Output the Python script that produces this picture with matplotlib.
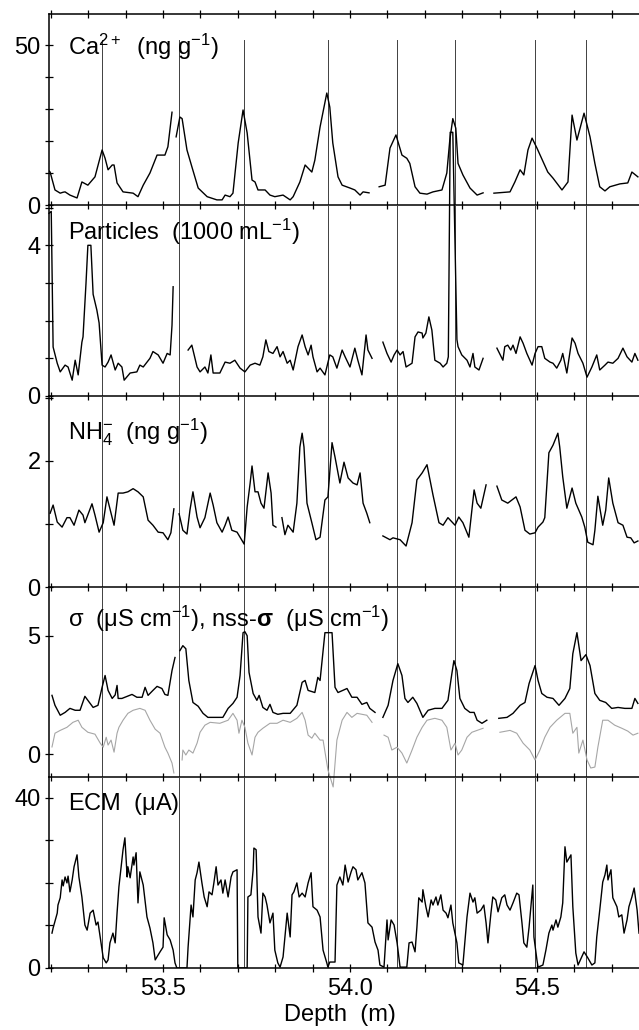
import numpy as np
import matplotlib.pyplot as plt
from matplotlib.ticker import MultipleLocator

nan = np.nan

# depths (m) of the marked events, drawn as thin lines through all panels
event_depths = [53.337, 53.544, 53.716, 53.940, 54.127, 54.280, 54.495, 54.631]

# Ca2+ (ng/g), nan = break in record
ca_depth = [53.192, 53.198, 53.211, 53.225, 53.233, 53.238, 53.251, 53.270, 53.283, 53.299,
            53.318, 53.337, 53.345, 53.353, 53.364, 53.369, 53.377, 53.393, 53.420, 53.433,
            53.447, 53.465, 53.484, 53.505, 53.513, 53.524, nan,
            53.535, 53.545, 53.551, 53.564, 53.577, 53.594, 53.618, 53.644, 53.658, 53.666,
            53.679, 53.687, 53.701, 53.714, 53.725, 53.738, 53.746, 53.754, 53.773, 53.786,
            53.799, 53.821, 53.840, 53.848, 53.866, 53.880, 53.898, 53.906, 53.920, 53.938,
            53.946, 53.954, 53.968, 53.979, 54.000, 54.013, 54.027, 54.035, 54.051, nan,
            54.078, 54.094, 54.107, 54.123, 54.139, 54.152, 54.160, 54.174, 54.187, 54.206,
            54.222, 54.246, 54.259, 54.267, 54.275, 54.283, 54.289, 54.302, 54.321, 54.340,
            54.356, nan,
            54.385, 54.428, 54.441, 54.455, 54.465, 54.476, 54.487, 54.500, 54.529, 54.543,
            54.567, 54.583, 54.594, 54.607, 54.626, 54.642, 54.655, 54.668, 54.682, 54.695,
            54.722, 54.743, 54.754, 54.770]
ca = [11.0, 10.3, 4.7, 3.7, 4.0, 4.1, 3.1, 2.2, 7.2, 6.2,
      8.8, 17.2, 14.6, 11.0, 12.5, 12.5, 6.9, 4.1, 3.7, 2.6,
      6.2, 10.0, 15.6, 15.6, 18.2, 29.0, nan,
      21.3, 27.5, 27.0, 17.2, 12.0, 5.3, 2.6, 1.6, 1.6, 3.1,
      2.6, 3.7, 19.4, 29.7, 22.5, 7.8, 7.2, 4.7, 4.7, 3.1,
      2.6, 3.1, 1.6, 2.6, 7.2, 12.5, 10.3, 14.0, 24.4, 35.0,
      30.6, 19.4, 8.8, 6.2, 5.3, 4.7, 3.1, 4.1, 3.8, nan,
      5.7, 6.2, 17.8, 21.9, 15.6, 14.6, 13.0, 5.7, 3.7, 3.4,
      4.1, 4.7, 10.0, 20.3, 27.0, 24.0, 13.0, 9.4, 5.3, 3.1,
      3.8, nan,
      3.7, 4.1, 7.2, 11.0, 9.4, 17.2, 20.9, 17.8, 10.3, 8.4,
      4.7, 7.2, 28.1, 20.3, 28.7, 21.3, 13.0, 5.7, 4.4, 5.7,
      6.6, 6.9, 10.3, 8.8]

# particles (1000/mL)
part_depth = [53.195, 53.201, 53.206, 53.217, 53.225, 53.238, 53.246, 53.257, 53.265, 53.273,
              53.283, 53.286, 53.294, 53.299, 53.307, 53.313, 53.323, 53.329, 53.337, 53.345,
              53.353, 53.361, 53.372, 53.380, 53.390, 53.396, 53.412, 53.430, 53.438, 53.447,
              53.457, 53.465, 53.473, 53.487, 53.500, 53.511, 53.519, 53.524, 53.527, nan,
              53.567, 53.577, 53.591, 53.599, 53.612, 53.620, 53.628, 53.634, 53.652, 53.666,
              53.679, 53.692, 53.706, 53.719, 53.733, 53.746, 53.759, 53.767, 53.775, 53.783,
              53.794, 53.805, 53.813, 53.821, 53.832, 53.840, 53.848, 53.861, 53.872, 53.880,
              53.888, 53.896, 53.901, 53.912, 53.920, 53.933, 53.946, 53.954, 53.965, 53.979,
              53.987, 54.000, 54.013, 54.021, 54.032, 54.043, 54.048, 54.059, nan,
              54.088, 54.099, 54.110, 54.118, 54.126, 54.134, 54.142, 54.150, 54.166, 54.174,
              54.182, 54.193, 54.195, 54.203, 54.211, 54.219, 54.227, 54.241, 54.249, 54.259,
              54.263, 54.268, 54.275, 54.286, 54.289, 54.299, 54.313, 54.321, 54.329, 54.334,
              54.345, 54.356, nan,
              54.393, 54.409, 54.414, 54.422, 54.430, 54.436, 54.444, 54.455, 54.463, 54.473,
              54.487, 54.495, 54.503, 54.513, 54.521, 54.535, 54.543, 54.553, 54.564, 54.569,
              54.580, 54.594, 54.602, 54.610, 54.623, 54.634, 54.647, 54.660, 54.668, 54.682,
              54.690, 54.703, 54.717, 54.730, 54.741, 54.754, 54.762, 54.770]
part = [4.85, 4.9, 1.3, 0.87, 0.64, 0.82, 0.77, 0.42, 0.95, 0.56,
        1.43, 1.57, 3.0, 4.0, 4.0, 2.7, 2.28, 1.94, 0.82, 0.77,
        0.9, 1.09, 0.69, 0.87, 0.77, 0.42, 0.61, 0.64, 0.82, 0.77,
        0.9, 1.0, 1.18, 1.09, 0.87, 1.13, 1.09, 1.88, 2.9, nan,
        1.22, 1.35, 0.77, 0.64, 0.77, 0.61, 1.09, 0.61, 0.61, 0.9,
        0.87, 0.95, 0.74, 0.64, 0.82, 0.87, 0.82, 1.04, 1.49, 1.18,
        1.13, 1.31, 1.04, 1.18, 0.87, 0.95, 0.69, 1.31, 1.62, 1.31,
        1.09, 1.35, 1.04, 0.64, 0.74, 0.56, 1.09, 1.04, 0.74, 1.22,
        1.04, 0.77, 1.27, 0.95, 0.56, 1.62, 1.22, 1.0, nan,
        1.43, 1.13, 0.9, 1.09, 1.22, 1.09, 1.18, 0.77, 0.87, 1.57,
        1.7, 1.67, 1.54, 1.67, 2.1, 1.75, 0.95, 0.87, 0.77, 0.87,
        1.04, 7.0, 7.0, 1.5, 1.31, 1.09, 0.95, 0.77, 1.13, 0.77,
        0.69, 1.0, nan,
        1.27, 0.95, 1.31, 1.35, 1.22, 1.35, 1.13, 1.57, 1.4, 1.13,
        0.82, 1.13, 1.31, 1.31, 1.0, 0.9, 0.87, 0.74, 0.95, 1.13,
        0.61, 1.54, 1.4, 1.13, 0.87, 0.5, 0.77, 1.09, 0.69, 0.82,
        0.9, 0.87, 1.0, 1.27, 1.04, 0.9, 1.13, 0.95]

# NH4 (ng/g)
nh4_depth = [53.198, 53.206, 53.217, 53.230, 53.243, 53.251, 53.262, 53.275, 53.286, 53.291,
             53.310, 53.318, 53.329, 53.340, 53.350, 53.361, 53.369, 53.380, 53.393, 53.406,
             53.420, 53.433, 53.447, 53.460, 53.473, 53.487, 53.500, 53.513, 53.521, 53.529, nan,
             53.543, 53.553, 53.564, 53.572, 53.580, 53.591, 53.599, 53.612, 53.626, 53.634,
             53.644, 53.658, 53.666, 53.674, 53.684, 53.698, 53.706, 53.717, 53.725, 53.733,
             53.738, 53.746, 53.754, 53.762, 53.770, 53.781, 53.789, 53.794, 53.802, nan,
             53.818, 53.826, 53.834, 53.848, 53.858, 53.866, 53.872, 53.877, 53.885, 53.898,
             53.909, 53.920, 53.933, 53.941, 53.952, 53.960, 53.973, 53.984, 53.995, 54.008,
             54.019, 54.027, 54.035, 54.045, 54.053, nan,
             54.088, 54.107, 54.115, 54.134, 54.150, 54.166, 54.179, 54.193, 54.206, 54.222,
             54.238, 54.249, 54.262, 54.281, 54.291, 54.302, 54.318, 54.332, 54.340, 54.350,
             54.364, nan,
             54.393, 54.406, 54.422, 54.444, 54.455, 54.468, 54.481, 54.495, 54.503, 54.516,
             54.521, 54.532, 54.543, 54.556, 54.561, 54.569, 54.580, 54.594, 54.604, 54.620,
             54.628, 54.636, 54.650, 54.655, 54.663, 54.676, 54.684, 54.692, 54.703, 54.717,
             54.730, 54.741, 54.751, 54.760, 54.770]
nh4 = [1.17, 1.3, 1.03, 0.95, 1.1, 1.1, 0.98, 1.22, 1.14, 1.02,
       1.32, 1.14, 0.87, 1.02, 1.43, 1.17, 0.98, 1.49, 1.49, 1.51,
       1.56, 1.51, 1.43, 1.06, 0.98, 0.87, 0.86, 0.75, 0.86, 1.24, nan,
       1.16, 0.9, 0.84, 1.22, 1.51, 1.11, 0.94, 1.1, 1.49, 1.3,
       1.02, 0.87, 0.98, 1.11, 0.9, 0.87, 0.79, 0.68, 1.27, 1.65,
       1.92, 1.51, 1.51, 1.33, 1.25, 1.81, 1.49, 0.98, 0.95, nan,
       1.1, 0.83, 0.98, 0.87, 1.33, 2.22, 2.44, 2.22, 1.33, 1.02,
       0.75, 0.79, 1.38, 1.43, 2.29, 2.06, 1.65, 1.98, 1.73, 1.65,
       1.62, 1.81, 1.33, 1.17, 1.02, nan,
       0.81, 0.75, 0.78, 0.75, 0.65, 1.02, 1.7, 1.81, 1.94, 1.46,
       1.02, 0.98, 1.1, 0.98, 1.11, 1.02, 0.79, 1.54, 1.33, 1.25,
       1.62, nan,
       1.6, 1.38, 1.33, 1.43, 1.27, 0.9, 0.84, 0.86, 0.95, 1.03,
       1.1, 2.13, 2.25, 2.44, 2.22, 1.75, 1.25, 1.57, 1.33, 1.11,
       0.95, 0.71, 0.67, 0.9, 1.44, 0.98, 1.22, 1.73, 1.33, 1.02,
       0.98, 0.79, 0.78, 0.7, 0.73]

# conductivity sigma (uS/cm)
sig_depth = [53.203, 53.211, 53.225, 53.238, 53.251, 53.265, 53.278, 53.291, 53.299, 53.313,
             53.326, 53.337, 53.345, 53.353, 53.364, 53.372, 53.377, 53.380, 53.390, 53.404,
             53.417, 53.430, 53.444, 53.452, 53.460, 53.473, 53.484, 53.497, 53.505, 53.513,
             53.524, 53.532, nan,
             53.545, 53.553, 53.561, 53.569, 53.580, 53.594, 53.607, 53.620, 53.644, 53.660,
             53.674, 53.687, 53.698, 53.706, 53.714, 53.719, 53.725, 53.730, 53.741, 53.751,
             53.757, 53.767, 53.778, 53.786, 53.794, 53.807, 53.821, 53.840, 53.858, 53.872,
             53.880, 53.888, 53.906, 53.914, 53.920, 53.933, 53.952, 53.960, 53.968, 53.981,
             53.992, 54.005, 54.019, 54.032, 54.045, 54.053, 54.067, nan,
             54.088, 54.102, 54.115, 54.128, 54.139, 54.147, 54.155, 54.168, 54.179, 54.195,
             54.209, 54.227, 54.246, 54.262, 54.273, 54.278, 54.286, 54.294, 54.307, 54.321,
             54.332, 54.340, 54.353, 54.366, nan,
             54.398, 54.420, 54.436, 54.455, 54.468, 54.479, 54.495, 54.503, 54.513, 54.527,
             54.543, 54.559, 54.575, 54.588, 54.596, 54.607, 54.618, 54.631, 54.642, 54.655,
             54.668, 54.684, 54.700, 54.717, 54.735, 54.754, 54.762, 54.770]
sig = [2.48, 2.06, 1.64, 1.76, 1.93, 1.85, 1.85, 2.44, 2.27, 1.97,
       2.06, 2.82, 3.32, 2.69, 2.35, 2.5, 2.9, 2.35, 2.35, 2.44,
       2.52, 2.4, 2.4, 2.82, 2.48, 2.69, 2.86, 2.77, 2.52, 2.48,
       3.53, 4.08, nan,
       4.37, 4.58, 4.45, 3.11, 2.18, 2.02, 1.72, 1.55, 1.55, 1.55,
       1.93, 2.14, 2.4, 3.32, 5.13, 5.17, 5.0, 3.45, 2.56, 2.27,
       2.48, 1.97, 1.85, 2.1, 1.76, 1.68, 1.72, 1.72, 2.06, 3.03,
       3.11, 2.69, 2.6, 3.24, 3.11, 5.13, 5.13, 2.82, 2.6, 2.69,
       2.77, 2.4, 2.4, 2.1, 2.18, 1.93, 1.76, nan,
       1.55, 2.06, 3.11, 3.82, 3.32, 2.35, 2.18, 2.4, 2.14, 1.55,
       1.85, 1.93, 1.93, 2.27, 3.45, 3.95, 3.53, 2.35, 1.93, 1.76,
       1.76, 1.43, 1.3, 1.43, nan,
       1.51, 1.55, 1.72, 2.06, 2.18, 2.98, 3.74, 3.11, 2.56, 2.4,
       2.35, 2.06, 2.35, 2.77, 4.24, 5.13, 3.95, 4.2, 3.74, 2.56,
       2.27, 2.18, 1.93, 1.97, 1.93, 1.93, 2.35, 2.14]

# non-sea-salt sigma (uS/cm)
nss_depth = [53.203, 53.211, 53.225, 53.243, 53.259, 53.273, 53.283, 53.299, 53.318, 53.332,
             53.340, 53.348, 53.353, 53.361, 53.369, 53.377, 53.382, 53.393, 53.406, 53.420,
             53.438, 53.452, 53.465, 53.479, 53.492, 53.505, 53.513, 53.524, 53.529, nan,
             53.551, 53.553, 53.561, 53.569, 53.580, 53.591, 53.599, 53.612, 53.626, 53.652,
             53.674, 53.687, 53.698, 53.703, 53.711, 53.719, 53.727, 53.738, 53.746, 53.754,
             53.767, 53.786, 53.805, 53.821, 53.840, 53.858, 53.872, 53.880, 53.888, 53.898,
             53.906, 53.920, 53.928, 53.941, 53.955, 53.965, 53.979, 53.992, 54.005, 54.019,
             54.032, 54.045, 54.059, nan,
             54.091, 54.102, 54.112, 54.126, 54.139, 54.152, 54.166, 54.179, 54.193, 54.206,
             54.227, 54.246, 54.259, 54.270, 54.281, 54.289, 54.299, 54.313, 54.326, 54.340,
             54.356, nan,
             54.401, 54.428, 54.446, 54.463, 54.481, 54.495, 54.508, 54.521, 54.535, 54.553,
             54.575, 54.588, 54.596, 54.607, 54.612, 54.623, 54.634, 54.644, 54.655, 54.663,
             54.676, 54.690, 54.708, 54.727, 54.743, 54.757, 54.770]
nss = [0.3, 0.88, 1.0, 1.13, 1.34, 1.43, 1.13, 0.92, 0.84, 0.46,
       0.29, 0.71, 0.38, 0.59, 0.08, 0.88, 1.13, 1.43, 1.72, 1.85,
       1.93, 1.85, 1.43, 1.05, 0.88, 0.29, 0.04, -0.38, -0.8, nan,
       -0.25, 0.17, -0.04, 0.17, 0.04, 0.46, 0.92, 1.22, 1.34, 1.3,
       1.43, 1.72, 1.43, 0.88, 1.43, 1.13, 0.46, -0.04, 0.71, 0.92,
       1.09, 1.3, 1.3, 1.43, 1.34, 1.51, 1.76, 1.43, 0.8, 0.67,
       0.88, 0.59, 0.59, -0.67, -1.39, 0.59, 1.43, 1.76, 1.55, 1.72,
       1.68, 1.64, 1.34, nan,
       0.8, 0.71, 0.17, 0.29, 0.04, -0.38, 0.17, 0.71, 1.13, 1.43,
       1.51, 1.43, 1.13, 0.17, 0.46, -0.04, 0.17, 0.71, 0.92, 1.0,
       1.09, nan,
       0.92, 1.0, 0.88, 0.46, 0.17, -0.25, 0.17, 0.71, 1.13, 1.43,
       1.72, 1.72, 0.88, 1.13, 0.04, 0.59, -0.25, -0.59, -0.55, 0.29,
       1.43, 1.43, 1.22, 1.09, 0.97, 0.8, 0.88]

# ECM current (uA)
ecm_depth = [53.203, 53.206, 53.217, 53.219, 53.225, 53.230, 53.233, 53.238, 53.243, 53.246,
             53.251, 53.257, 53.262, 53.270, 53.275, 53.283, 53.291, 53.297, 53.305, 53.313,
             53.321, 53.326, 53.334, 53.340, 53.348, 53.353, 53.358, 53.366, 53.372, 53.377,
             53.382, 53.390, 53.393, 53.398, 53.404, 53.406, 53.412, 53.420, 53.422, 53.428,
             53.433, 53.438, 53.447, 53.457, 53.465, 53.473, 53.479, 53.492, 53.500, 53.503,
             53.511, 53.519, 53.527, 53.532, 53.537, 53.564, 53.567, 53.575, 53.580, 53.586,
             53.591, 53.596, 53.604, 53.610, 53.618, 53.623, 53.631, 53.636, 53.642, 53.647,
             53.655, 53.660, 53.666, 53.674, 53.682, 53.687, 53.698, 53.700, 53.725, 53.727,
             53.735, 53.741, 53.743, 53.749, 53.754, 53.762, 53.767, 53.773, 53.778, 53.786,
             53.794, 53.799, 53.807, 53.813, 53.821, 53.832, 53.840, 53.845, 53.850, 53.858,
             53.864, 53.872, 53.880, 53.888, 53.896, 53.901, 53.912, 53.920, 53.928, 53.938,
             53.941, 53.946, 53.960, 53.965, 53.973, 53.981, 53.987, 53.995, 54.003, 54.008,
             54.016, 54.021, 54.032, 54.040, 54.048, 54.059, 54.067, 54.075, 54.080, 54.091,
             54.099, 54.102, 54.110, 54.118, 54.126, 54.134, 54.152, 54.158, 54.166, 54.174,
             54.179, 54.184, 54.193, 54.195, 54.203, 54.209, 54.217, 54.222, 54.230, 54.235,
             54.243, 54.249, 54.257, 54.262, 54.270, 54.275, 54.286, 54.291, 54.302, 54.307,
             54.313, 54.321, 54.329, 54.334, 54.340, 54.350, 54.358, 54.364, 54.369, 54.377,
             54.382, 54.390, 54.396, 54.406, 54.414, 54.420, 54.428, 54.436, 54.446, 54.452,
             54.460, 54.465, 54.473, 54.479, 54.489, 54.492, 54.500, 54.503, 54.516, 54.524,
             54.532, 54.540, 54.543, 54.551, 54.556, 54.564, 54.569, 54.575, 54.580, 54.591,
             54.596, 54.604, 54.610, 54.620, 54.626, 54.636, 54.647, 54.655, 54.660, 54.668,
             54.676, 54.682, 54.687, 54.690, 54.698, 54.703, 54.714, 54.719, 54.727, 54.733,
             54.741, 54.746, 54.754, 54.760, 54.768, 54.773]
ecm = [8.2, 9.4, 12.9, 14.8, 16.5, 20.7, 19.3, 21.4, 20.0, 21.6,
       17.9, 20.7, 23.8, 26.6, 21.4, 16.7, 10.1, 8.9, 12.9, 13.6,
       10.1, 10.8, 5.9, 2.4, 1.2, 1.9, 5.9, 8.2, 5.9, 12.9,
       19.1, 25.4, 27.8, 30.6, 21.4, 23.8, 21.2, 26.1, 24.2, 27.1,
       15.3, 22.6, 19.5, 12.0, 9.4, 5.9, 1.9, 3.8, 4.9, 11.8,
       7.8, 6.6, 4.2, 1.2, 0.0, 0.0, 4.9, 14.8, 12.0, 20.7,
       22.4, 24.9, 20.0, 16.7, 14.4, 17.9, 17.2, 20.0, 23.8, 19.5,
       20.7, 17.6, 20.7, 16.7, 21.4, 22.6, 23.1, 0.0, 0.0, 16.7,
       17.2, 23.1, 28.2, 27.8, 12.0, 8.2, 17.6, 16.7, 14.8, 10.6,
       12.9, 4.2, 1.2, 0.2, 2.6, 12.9, 7.3, 17.2, 17.9, 20.0,
       16.7, 17.6, 16.7, 20.0, 22.4, 14.4, 13.6, 12.0, 4.2, 1.2,
       0.2, 1.4, 1.4, 19.5, 21.4, 19.5, 24.2, 20.2, 22.6, 23.8,
       23.1, 20.7, 22.4, 20.0, 10.6, 9.6, 6.1, 4.2, 0.7, 0.2,
       11.3, 6.6, 11.3, 10.1, 5.9, 0.2, 0.2, 5.9, 6.1, 3.8,
       9.6, 16.5, 15.5, 18.4, 14.4, 12.0, 16.0, 14.8, 16.7, 14.8,
       17.2, 13.6, 12.9, 11.8, 14.8, 10.6, 5.9, 1.2, 0.7, 5.9,
       12.0, 17.6, 15.5, 16.5, 12.9, 13.6, 14.8, 10.6, 5.9, 12.9,
       16.7, 16.0, 13.2, 16.5, 17.2, 14.8, 13.6, 15.3, 17.6, 17.2,
       10.6, 5.9, 4.9, 9.6, 19.5, 7.3, 1.9, 0.2, 0.7, 4.2,
       8.2, 10.1, 8.9, 11.3, 9.6, 12.0, 15.3, 28.5, 24.9, 26.6,
       14.4, 3.5, 0.7, 2.6, 3.8, 2.4, 0.7, 1.2, 7.3, 13.6,
       20.2, 21.9, 24.2, 20.7, 23.1, 16.5, 14.4, 12.0, 12.5, 8.2,
       11.3, 14.4, 16.7, 18.8, 13.6, 8.2]

plt.rcParams['font.family'] = ['Liberation Sans', 'DejaVu Sans']
plt.rcParams['mathtext.fontset'] = 'custom'
plt.rcParams['mathtext.rm'] = 'Liberation Sans'
plt.rcParams['mathtext.it'] = 'Liberation Sans'
plt.rcParams['mathtext.bf'] = 'Liberation Sans:bold'

fig = plt.figure(figsize=(6.39, 10.3), dpi=100)

# panel boxes in pixels (top, bottom)
W, H = 639.0, 1030.0
rows = [(14, 205), (205, 396), (396, 587), (587, 777), (777, 968)]
x0 = 49.0
xlim = (53.195, 54.773)

panels = [
    (ca_depth, ca, (0, 59.7), [0, 50], 10, r'Ca$^{2+}$  (ng g$^{-1}$)', 0.83),
    (part_depth, part, (0, 5.07), [0, 4], 1, r'Particles  (1000 mL$^{-1}$)', 0.86),
    (nh4_depth, nh4, (0, 3.03), [0, 2], 1, r'NH$_4^{-}$  (ng g$^{-1}$)', 0.81),
    (sig_depth, sig, (-0.97, 7.06), [0, 5], None, r'$\sigma$  ($\mu$S cm$^{-1}$), nss-$\mathbf{\sigma}$  ($\mu$S cm$^{-1}$)', 0.83),
    (ecm_depth, ecm, (0, 44.9), [0, 40], 10, r'ECM  ($\mu$A)', 0.86),
]

axes = []
for i, (dep, val, ylim, yt, ym, label, ly) in enumerate(panels):
    top, bot = rows[i]
    ax = fig.add_axes([x0 / W, 1 - bot / H, (W - x0) / W, (bot - top) / H])
    ax.patch.set_alpha(0)
    ax.set_xlim(*xlim)
    ax.set_ylim(*ylim)
    ax.spines['right'].set_visible(False)
    if i > 0:
        ax.spines['top'].set_visible(False)
    for s in ax.spines.values():
        s.set_linewidth(1.1)
    ax.set_xticks([53.5, 54.0, 54.5])
    ax.xaxis.set_minor_locator(MultipleLocator(0.1))
    ax.set_yticks(yt)
    if ym:
        ax.yaxis.set_minor_locator(MultipleLocator(ym))
    ax.tick_params(which='both', direction='inout', length=6, width=0.9,
                   labelsize=17, top=(i == 0), right=False)
    ax.tick_params(axis='y', pad=3)
    if i < 4:
        ax.tick_params(axis='x', labelbottom=False)
    else:
        ax.set_xticklabels(['53.5', '54.0', '54.5'])
        ax.tick_params(axis='x', pad=4)
    ax.text(0.032, ly, label, transform=ax.transAxes, fontsize=17, va='center', ha='left')

    # event markers
    for d in event_depths:
        if i == 0:
            ax.axvline(d, ymax=51.5 / 59.7, color='0.25', lw=0.7)
        else:
            ax.axvline(d, color='0.25', lw=0.7)

    if i == 3:
        ax.plot(nss_depth, nss, color='0.65', lw=0.8, clip_on=False, zorder=2)
    # particles spike runs up into the Ca panel like the original
    ax.plot(dep, val, color='black', lw=1.0, clip_on=(i != 1), zorder=3)
    axes.append(ax)

fig.text(0.532, 1 - 1015 / H, 'Depth  (m)', fontsize=17, ha='center', va='center')

fig.savefig('out.png', dpi=100)
